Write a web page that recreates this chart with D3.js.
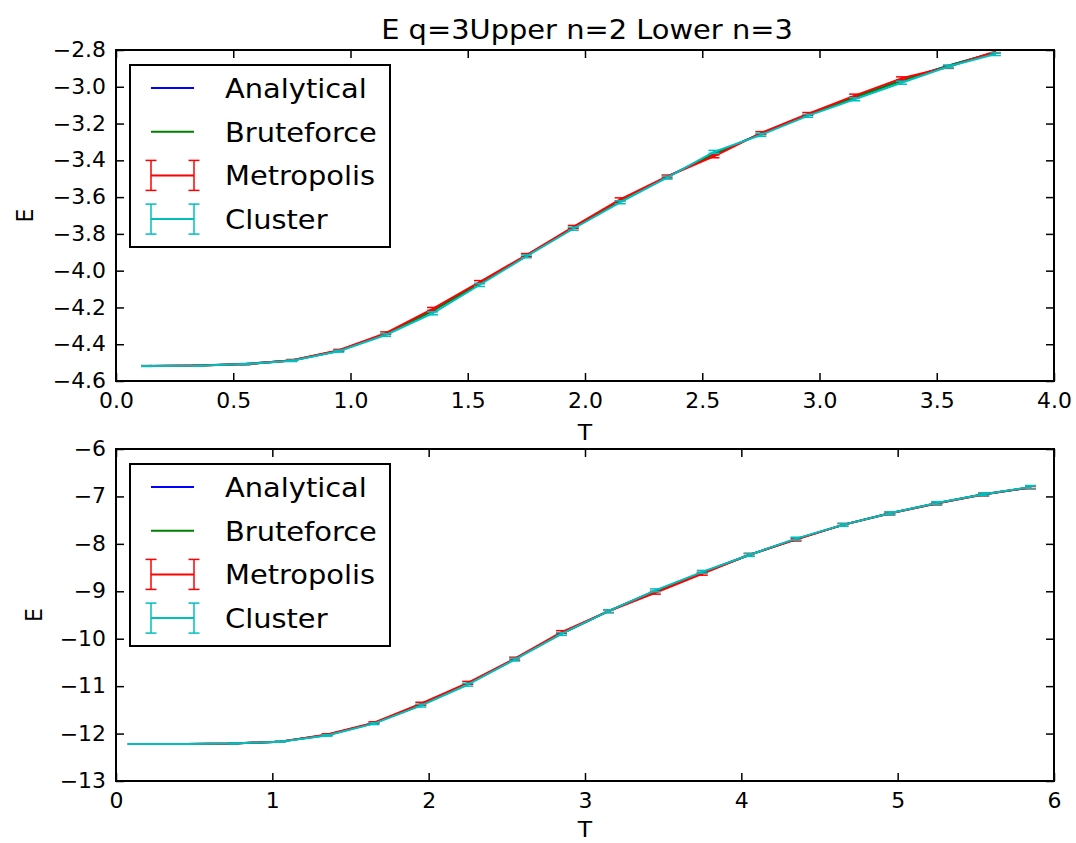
<!DOCTYPE html>
<html>
<head>
<meta charset="utf-8">
<script src="https://cdn.jsdelivr.net/npm/d3@7"></script>
<style>
  body { margin: 0; background: #fff; }
  text { font-family: "DejaVu Sans", sans-serif; fill: #000; }
</style>
</head>
<body>
<div id="chart"></div>
<script>
// ---- upper panel (n=2) ----
const tUpper = [0.13, 0.35, 0.55, 0.75, 0.95, 1.15, 1.35, 1.55, 1.75, 1.95, 2.15, 2.35, 2.55, 2.75, 2.95, 3.15, 3.35, 3.55, 3.75];
const analyticalUpper = [-4.518, -4.516, -4.508, -4.488, -4.435, -4.345, -4.218, -4.070, -3.918, -3.768, -3.622, -3.490, -3.366, -3.255, -3.152, -3.057, -2.966, -2.886, -2.812];
const bruteforceUpper = [-4.518, -4.516, -4.508, -4.488, -4.435, -4.345, -4.218, -4.070, -3.918, -3.768, -3.622, -3.490, -3.366, -3.255, -3.152, -3.057, -2.966, -2.886, -2.812];
const metropolisUpper = [-4.518, -4.516, -4.509, -4.487, -4.433, -4.340, -4.208, -4.062, -3.915, -3.762, -3.612, -3.488, -3.378, -3.252, -3.148, -3.048, -2.954, -2.892, -2.808];
const metropolisErrUpper = [0.002, 0.002, 0.003, 0.004, 0.005, 0.007, 0.008, 0.008, 0.008, 0.008, 0.008, 0.008, 0.008, 0.008, 0.008, 0.008, 0.008, 0.008, 0.008];
const clusterUpper = [-4.519, -4.517, -4.508, -4.490, -4.438, -4.350, -4.232, -4.078, -3.922, -3.772, -3.628, -3.494, -3.354, -3.262, -3.158, -3.068, -2.978, -2.890, -2.822];
const clusterErrUpper = [0.002, 0.002, 0.003, 0.004, 0.005, 0.007, 0.008, 0.008, 0.008, 0.008, 0.008, 0.008, 0.008, 0.008, 0.008, 0.008, 0.008, 0.008, 0.008];
const xTicksUpper = [0, 0.5, 1, 1.5, 2, 2.5, 3, 3.5, 4];
const yTicksUpper = [-4.6, -4.4, -4.2, -4.0, -3.8, -3.6, -3.4, -3.2, -3.0, -2.8];

// ---- lower panel (n=3) ----
const tLower = [0.11, 0.45, 0.75, 1.05, 1.35, 1.65, 1.95, 2.25, 2.55, 2.85, 3.15, 3.45, 3.75, 4.05, 4.35, 4.65, 4.95, 5.25, 5.55, 5.85];
const analyticalLower = [-12.22, -12.22, -12.21, -12.17, -12.03, -11.78, -11.40, -10.95, -10.43, -9.89, -9.42, -8.99, -8.61, -8.235, -7.90, -7.60, -7.355, -7.145, -6.955, -6.81];
const bruteforceLower = [-12.22, -12.22, -12.21, -12.17, -12.03, -11.78, -11.40, -10.95, -10.43, -9.89, -9.42, -8.99, -8.61, -8.235, -7.90, -7.60, -7.355, -7.145, -6.955, -6.81];
const metropolisLower = [-12.22, -12.22, -12.21, -12.17, -12.02, -11.77, -11.37, -10.93, -10.42, -9.86, -9.42, -9.03, -8.63, -8.23, -7.91, -7.60, -7.36, -7.15, -6.96, -6.81];
const metropolisErrLower = [0.005, 0.005, 0.01, 0.01, 0.015, 0.02, 0.03, 0.03, 0.03, 0.03, 0.03, 0.03, 0.03, 0.03, 0.03, 0.03, 0.03, 0.03, 0.03, 0.03];
const clusterLower = [-12.22, -12.22, -12.21, -12.17, -12.04, -11.79, -11.41, -10.97, -10.44, -9.90, -9.42, -8.98, -8.59, -8.235, -7.89, -7.60, -7.355, -7.14, -6.955, -6.80];
const clusterErrLower = [0.005, 0.005, 0.01, 0.01, 0.015, 0.02, 0.03, 0.03, 0.03, 0.03, 0.03, 0.03, 0.03, 0.03, 0.03, 0.03, 0.03, 0.03, 0.03, 0.03];
const xTicksLower = [0, 1, 2, 3, 4, 5, 6];
const yTicksLower = [-13, -12, -11, -10, -9, -8, -7, -6];

const legendNames = ["Analytical", "Bruteforce", "Metropolis", "Cluster"];
const colors = ["#0000ff", "#008000", "#ff0000", "#00bfbf"];

const W = 1076, H = 843;
const SX = 1.07; // the reference text is a bit wider than plain DejaVu
const left = 116, right = 1054;

const svg = d3.select("#chart").append("svg")
    .attr("width", W)
    .attr("height", H);

function label(parent, x, y, str, size, anchor, rot) {
    return parent.append("text")
        .attr("transform", "translate(" + x + "," + y + ") scale(" + SX + ",1)" + (rot ? " rotate(" + rot + ")" : ""))
        .attr("font-size", size)
        .attr("text-anchor", anchor)
        .text(str);
}

function stretchAxisText(g, size) {
    g.attr("font-family", null).attr("font-size", null);
    g.select(".domain").remove();
    g.selectAll(".tick line").attr("stroke", "#000").attr("stroke-width", 1.5);
    g.selectAll("text").each(function(){
        const t = d3.select(this);
        const x = +t.attr("x") || 0;
        const y = +t.attr("y") || 0;
        t.attr("x", 0).attr("y", 0)
            .attr("font-size", size)
            .attr("transform", "translate(" + x + "," + y + ") scale(" + SX + ",1)");
    });
}

label(svg, 587, 39, "E q=3Upper n=2 Lower n=3", 27, "middle");

const panels = [
    {top: 50, bottom: 381, xDomain: [0, 4], yDomain: [-4.6, -2.8], xTicks: xTicksUpper, yTicks: yTicksUpper,
     fmt: d3.format(".1f"), t: tUpper, series: [analyticalUpper, bruteforceUpper, metropolisUpper, clusterUpper],
     errs: [null, null, metropolisErrUpper, clusterErrUpper], yLabelX: 33, tLabelY: 440},
    {top: 449, bottom: 781, xDomain: [0, 6], yDomain: [-13, -6], xTicks: xTicksLower, yTicks: yTicksLower,
     fmt: d3.format("d"), t: tLower, series: [analyticalLower, bruteforceLower, metropolisLower, clusterLower],
     errs: [null, null, metropolisErrLower, clusterErrLower], yLabelX: 42, tLabelY: 837}
];

panels.forEach(p => {
    const x = d3.scaleLinear().domain(p.xDomain).range([left, right]);
    const y = d3.scaleLinear().domain(p.yDomain).range([p.bottom, p.top]);
    const g = svg.append("g");

    // data
    const line = d3.line().x((d, i) => x(p.t[i])).y(d => y(d));
    p.series.forEach((vals, s) => {
        const sg = g.append("g").attr("stroke", colors[s]).attr("fill", "none");
        sg.append("path")
            .attr("d", line(vals))
            .attr("stroke-width", 2)
            .attr("stroke-linejoin", "round");
        if (p.errs[s]) {
            const err = p.errs[s];
            vals.forEach((v, i) => {
                const cx = x(p.t[i]);
                const y0 = y(v - err[i]), y1 = y(v + err[i]);
                sg.append("line").attr("x1", cx).attr("x2", cx).attr("y1", y0).attr("y2", y1).attr("stroke-width", 1.5);
                [y0, y1].forEach(cy => {
                    sg.append("line").attr("x1", cx - 5.5).attr("x2", cx + 5.5)
                        .attr("y1", cy).attr("y2", cy).attr("stroke-width", 1.5);
                });
            });
        }
    });

    // axes, ticks pointing inward on all four sides
    g.append("g").attr("transform", "translate(0," + p.bottom + ")")
        .call(d3.axisBottom(x).tickValues(p.xTicks).tickFormat(p.fmt).tickSize(-8).tickPadding(12))
        .call(ax => stretchAxisText(ax, 20.5));
    g.append("g").attr("transform", "translate(0," + p.top + ")")
        .call(d3.axisTop(x).tickValues(p.xTicks).tickFormat("").tickSize(-8))
        .call(ax => stretchAxisText(ax, 20.5));
    g.append("g").attr("transform", "translate(" + left + ",0)")
        .call(d3.axisLeft(y).tickValues(p.yTicks).tickFormat(p.fmt).tickSize(-8).tickPadding(10))
        .call(ax => stretchAxisText(ax, 20.5));
    g.append("g").attr("transform", "translate(" + right + ",0)")
        .call(d3.axisRight(y).tickValues(p.yTicks).tickFormat("").tickSize(-8))
        .call(ax => stretchAxisText(ax, 20.5));

    g.append("rect")
        .attr("x", left).attr("y", p.top)
        .attr("width", right - left).attr("height", p.bottom - p.top)
        .attr("fill", "none").attr("stroke", "#000").attr("stroke-width", 2);

    label(g, 585, p.tLabelY, "T", 22, "middle");
    label(g, p.yLabelX, (p.top + p.bottom) / 2, "E", 22, "middle", -90);

    // legend
    const lg = g.append("g").attr("transform", "translate(130," + (p.top + 15) + ")");
    lg.append("rect").attr("width", 260).attr("height", 182)
        .attr("fill", "#fff").attr("stroke", "#000").attr("stroke-width", 2);
    legendNames.forEach((name, i) => {
        const cy = 23 + i * 43.7;
        const row = lg.append("g").attr("stroke", colors[i]).attr("fill", "none");
        row.append("line").attr("x1", 21).attr("x2", 64).attr("y1", cy).attr("y2", cy).attr("stroke-width", 2);
        if (p.errs[i]) {
            [21, 64].forEach(ex => {
                row.append("line").attr("x1", ex).attr("x2", ex).attr("y1", cy - 15).attr("y2", cy + 15).attr("stroke-width", 1.5);
                [cy - 15, cy + 15].forEach(capY => {
                    row.append("line").attr("x1", ex - 5.5).attr("x2", ex + 5.5)
                        .attr("y1", capY).attr("y2", capY).attr("stroke-width", 1.5);
                });
            });
        }
        label(lg, 95, cy + 10, name, 27, "start");
    });
});
</script>
</body>
</html>
